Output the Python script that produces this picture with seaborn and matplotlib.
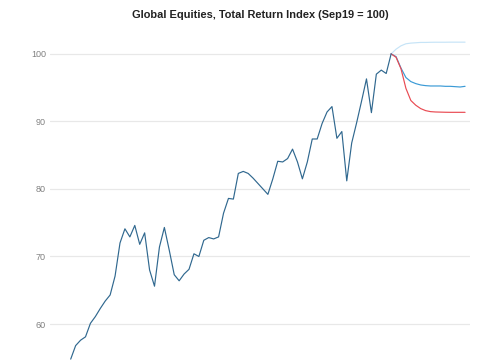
import matplotlib
matplotlib.use("Agg")
import matplotlib.pyplot as plt
import seaborn as sns
import pandas as pd
import numpy as np

title = "Global Equities, Total Return Index (Sep19 = 100)"

# Historical monthly index (last point = Sep19 = 100)
hist_values = [
    54.8, 56.8, 57.6, 58.1, 60.1, 61.1, 62.3, 63.4, 64.3, 67.1,
    72.0, 74.1, 72.9, 74.6, 71.8, 73.5, 68.0, 65.6, 71.4, 74.3,
    70.9, 67.3, 66.4, 67.4, 68.1, 70.4, 70.0, 72.4, 72.8, 72.6,
    72.9, 76.4, 78.6, 78.5, 82.3, 82.6, 82.3, 81.6, 80.8, 80.0,
    79.2, 81.5, 84.1, 84.0, 84.5, 85.9, 84.0, 81.5, 84.0, 87.4,
    87.4, 89.7, 91.4, 92.2, 87.5, 88.5, 81.2, 86.8, 89.8, 93.0,
    96.3, 91.3, 97.0, 97.6, 97.1, 100.0,
]

# Projection scenarios starting at Sep19
upside = [100.0, 100.7, 101.2, 101.5, 101.6, 101.65, 101.7, 101.7,
          101.72, 101.73, 101.73, 101.73, 101.74, 101.74, 101.74, 101.74]
base = [100.0, 99.6, 97.9, 96.5, 95.9, 95.6, 95.4, 95.3,
        95.25, 95.25, 95.25, 95.2, 95.2, 95.15, 95.1, 95.2]
downside = [100.0, 99.5, 97.8, 94.9, 93.1, 92.4, 91.9, 91.6,
            91.45, 91.4, 91.38, 91.36, 91.35, 91.35, 91.35, 91.35]

y_ticks = [60, 70, 80, 90, 100]

sns.set_theme(style="white")
plt.rcParams['font.family'] = ['Liberation Sans', 'DejaVu Sans']

n_hist = len(hist_values)
hist_df = pd.DataFrame({"month": np.arange(n_hist), "value": hist_values})
proj_x = np.arange(n_hist - 1, n_hist - 1 + len(base))
up_df = pd.DataFrame({"month": proj_x, "value": upside})
base_df = pd.DataFrame({"month": proj_x, "value": base})
down_df = pd.DataFrame({"month": proj_x, "value": downside})

fig = plt.figure(figsize=(4.85, 3.6), dpi=100)
ax = fig.add_axes([50 / 485, 0.0, 420 / 485, 1 - 35 / 360])

for y in y_ticks:
    ax.axhline(y, color="#e8e8e8", lw=0.9, zorder=0)

sns.lineplot(data=up_df, x="month", y="value", ax=ax, color="#c6e4f7", lw=0.85)
sns.lineplot(data=base_df, x="month", y="value", ax=ax, color="#3a9ad6", lw=0.85)
sns.lineplot(data=down_df, x="month", y="value", ax=ax, color="#e94a52", lw=0.85)
sns.lineplot(data=hist_df, x="month", y="value", ax=ax, color="#30688f", lw=0.85)

ax.set_xlim(-4.2, 81.0)
ax.set_ylim(54.67, 102.8)
ax.set_yticks(y_ticks)
ax.set_yticklabels([str(t) for t in y_ticks], fontsize=6.5, color="#808080")
ax.set_xticks([])
ax.set_xlabel("")
ax.set_ylabel("")
ax.tick_params(axis="y", length=0, pad=3)
for s in ax.spines.values():
    s.set_visible(False)

fig.text(0.537, 1 - 15 / 360, title, ha="center", va="center",
         fontsize=7.9, fontweight="bold", color="#222222")

fig.savefig("out.png", dpi=100)
